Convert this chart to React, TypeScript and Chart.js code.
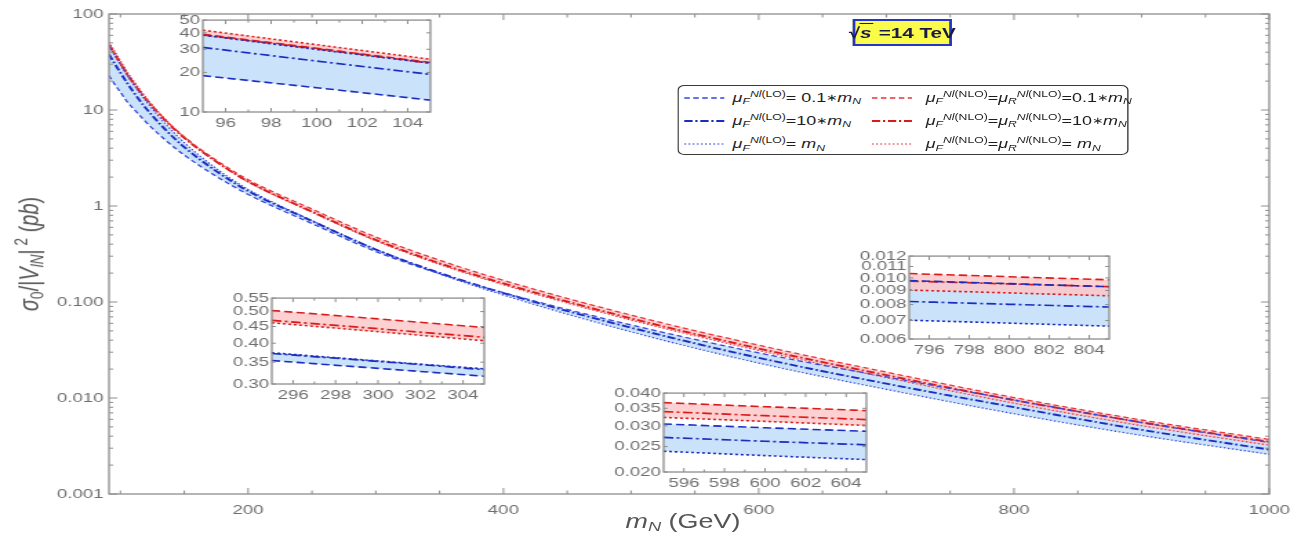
import React, { useEffect, useRef } from "react";
import { Chart, registerables } from "chart.js";

Chart.register(...registerables);

// The reference figure is horizontally stretched; we draw in a narrower
// virtual space and stretch it back with CSS.
const VW = 943;
const VH = 537;
const SX = 1301 / VW;
const FONT = '"Liberation Sans", Arial, Helvetica, sans-serif';
const TICK_COLOR = "#6f6f6f";
const FRAME_COLOR = "#8e8e8e";

// ---------------- main chart data ----------------
const MASS = [91, 95, 100, 105, 110, 120, 135, 150, 175, 200, 250, 300, 350, 400, 500, 600, 700, 800, 900, 1000];
const LO_F01 = [22.8, 18.9, 15.3, 12.3, 10.4, 7.48, 4.89, 3.39, 2.04, 1.32, 0.656, 0.335, 0.197, 0.125, 0.0577, 0.0295, 0.0166, 0.00952, 0.00555, 0.00344];
const LO_F10 = [38.0, 31.0, 24.4, 19.3, 15.5, 10.4, 6.28, 4.10, 2.31, 1.43, 0.698, 0.352, 0.201, 0.124, 0.054, 0.0262, 0.0141, 0.00802, 0.00466, 0.0029];
const LO_F1 = [47.0, 38.4, 29.9, 23.5, 18.7, 12.4, 7.23, 4.57, 2.46, 1.49, 0.707, 0.354, 0.196, 0.118, 0.0489, 0.0231, 0.0123, 0.00685, 0.00407, 0.00259];
const NLO_01 = [47.5, 39.0, 30.5, 23.8, 19.3, 13.0, 7.95, 5.25, 3.0, 1.88, 0.93, 0.475, 0.272, 0.168, 0.073, 0.0355, 0.0186, 0.0101, 0.0059, 0.0037];
const NLO_10 = [47.5, 39.0, 30.5, 23.8, 19.2, 12.9, 7.79, 5.12, 2.90, 1.80, 0.874, 0.443, 0.253, 0.156, 0.0675, 0.0328, 0.0173, 0.00952, 0.00558, 0.0035];
const NLO_1 = [51.1, 41.9, 32.5, 25.2, 20.3, 13.5, 8.03, 5.20, 2.90, 1.78, 0.860, 0.434, 0.246, 0.151, 0.0648, 0.0312, 0.0163, 0.00882, 0.00514, 0.00322];

const Y_TICKS = [0.001, 0.01, 0.1, 1, 10, 100];
const Y_TICK_LABELS = ["0.001", "0.010", "0.100", "1", "10", "100"];
const Y_MINOR = [
  0.002, 0.003, 0.004, 0.005, 0.006, 0.007, 0.008, 0.009,
  0.02, 0.03, 0.04, 0.05, 0.06, 0.07, 0.08, 0.09,
  0.2, 0.3, 0.4, 0.5, 0.6, 0.7, 0.8, 0.9,
  2, 3, 4, 5, 6, 7, 8, 9,
  20, 30, 40, 50, 60, 70, 80, 90,
];
const X_TICKS = [200, 400, 600, 800, 1000];
const X_TICK_LABELS = ["200", "400", "600", "800", "1000"];
const X_MINOR = [100, 150, 250, 300, 350, 450, 500, 550, 650, 700, 750, 850, 900, 950];

// ---------------- inset 1 (95-105 GeV) ----------------
const IN1_MASS = [95, 100, 105];
const IN1_LO_F01 = [18.9, 15.3, 12.3];
const IN1_LO_F10 = [31.0, 24.4, 19.3];
const IN1_LO_F1 = [38.4, 29.9, 23.5];
const IN1_NLO_01 = [39.0, 30.5, 23.8];
const IN1_NLO_10 = [38.6, 30.2, 23.5];
const IN1_NLO_1 = [41.9, 32.5, 25.2];
const IN1_Y_TICKS = [10, 20, 30, 40, 50];
const IN1_Y_LABELS = ["10", "20", "30", "40", "50"];
const IN1_X_TICKS = [96, 98, 100, 102, 104];
const IN1_X_MINOR = [97, 99, 101, 103];

// ---------------- inset 2 (295-305 GeV) ----------------
const IN2_MASS = [295, 300, 305];
const IN2_LO_F01 = [0.354, 0.335, 0.317];
const IN2_LO_F10 = [0.372, 0.352, 0.332];
const IN2_LO_F1 = [0.374, 0.353, 0.334];
const IN2_NLO_01 = [0.504, 0.475, 0.447];
const IN2_NLO_10 = [0.470, 0.443, 0.417];
const IN2_NLO_1 = [0.462, 0.434, 0.407];
const IN2_Y_TICKS = [0.30, 0.35, 0.40, 0.45, 0.50, 0.55];
const IN2_Y_LABELS = ["0.30", "0.35", "0.40", "0.45", "0.50", "0.55"];
const IN2_X_TICKS = [296, 298, 300, 302, 304];
const IN2_X_MINOR = [297, 299, 301, 303];

// ---------------- inset 3 (595-605 GeV) ----------------
const IN3_MASS = [595, 600, 605];
const IN3_LO_F01 = [0.0305, 0.0295, 0.0286];
const IN3_LO_F10 = [0.0271, 0.0262, 0.0254];
const IN3_LO_F1 = [0.0240, 0.0231, 0.0223];
const IN3_NLO_01 = [0.0368, 0.0355, 0.0343];
const IN3_NLO_10 = [0.0340, 0.0328, 0.0317];
const IN3_NLO_1 = [0.0323, 0.0312, 0.0301];
const IN3_Y_TICKS = [0.020, 0.025, 0.030, 0.035, 0.040];
const IN3_Y_LABELS = ["0.020", "0.025", "0.030", "0.035", "0.040"];
const IN3_X_TICKS = [596, 598, 600, 602, 604];
const IN3_X_MINOR = [597, 599, 601, 603];

// ---------------- inset 4 (795-805 GeV) ----------------
const IN4_MASS = [795, 800, 805];
const IN4_LO_F01 = [0.00978, 0.00953, 0.00929];
const IN4_LO_F10 = [0.00821, 0.00802, 0.00784];
const IN4_LO_F1 = [0.00702, 0.00685, 0.00668];
const IN4_NLO_01 = [0.01037, 0.0101, 0.00984];
const IN4_NLO_10 = [0.00974, 0.00951, 0.00929];
const IN4_NLO_1 = [0.00903, 0.00882, 0.00861];
const IN4_Y_TICKS = [0.006, 0.007, 0.008, 0.009, 0.010, 0.011, 0.012];
const IN4_Y_LABELS = ["0.006", "0.007", "0.008", "0.009", "0.010", "0.011", "0.012"];
const IN4_X_TICKS = [796, 798, 800, 802, 804];
const IN4_X_MINOR = [797, 799, 801, 803];

// ---------------- styles ----------------
const BLUE = "#3446e0";
const BLUE_DARK = "#1c2cc0";
const RED = "#e8343a";
const RED_DARK = "#d81c1c";
const BLUE_BAND = "rgba(196,224,250,0.9)";
const RED_BAND = "rgba(252,196,198,0.8)";

type LineStyle = { color: string; dash: number[]; width: number };
type StyleSet = Record<"lo01" | "lo10" | "lo1" | "nlo01" | "nlo10" | "nlo1", LineStyle>;

const MAIN_STYLES: StyleSet = {
  lo01: { color: BLUE, dash: [4, 2.5], width: 1.3 },
  lo10: { color: BLUE_DARK, dash: [6, 2, 1.6, 2], width: 1.9 },
  lo1: { color: BLUE, dash: [1.4, 1.6], width: 1.2 },
  nlo01: { color: RED, dash: [4, 2.5], width: 1.3 },
  nlo10: { color: RED_DARK, dash: [6, 2, 1.6, 2], width: 1.9 },
  nlo1: { color: RED, dash: [1.4, 1.6], width: 1.2 },
};
const INSET_STYLES: StyleSet = {
  lo01: { color: BLUE_DARK, dash: [6, 3], width: 1.6 },
  lo10: { color: BLUE_DARK, dash: [7, 2.5, 2, 2.5], width: 1.7 },
  lo1: { color: BLUE_DARK, dash: [2, 2], width: 1.6 },
  nlo01: { color: RED_DARK, dash: [6, 3], width: 1.6 },
  nlo10: { color: RED_DARK, dash: [7, 2.5, 2, 2.5], width: 1.7 },
  nlo1: { color: RED_DARK, dash: [2, 2], width: 1.6 },
};

type Series = { lo01: number[]; lo10: number[]; lo1: number[]; nlo01: number[]; nlo10: number[]; nlo1: number[] };

function buildDatasets(xs: number[], s: Series, st: StyleSet) {
  const pts = (arr: number[]) => xs.map((x, i) => ({ x, y: arr[i] }));
  const env = (arrs: number[][], f: (...v: number[]) => number) =>
    xs.map((x, i) => ({ x, y: f(...arrs.map((a) => a[i])) }));
  const red = [s.nlo01, s.nlo10, s.nlo1];
  const blue = [s.lo01, s.lo10, s.lo1];
  const band = (data: any, color: string | null) => ({
    data,
    borderWidth: 0,
    borderColor: "rgba(0,0,0,0)",
    pointRadius: 0,
    backgroundColor: color || "rgba(0,0,0,0)",
    fill: color ? { target: "-1", above: color, below: color } : false,
    cubicInterpolationMode: "monotone",
  });
  const line = (arr: number[], ls: LineStyle) => ({
    data: pts(arr),
    borderColor: ls.color,
    borderWidth: ls.width,
    borderDash: ls.dash,
    pointRadius: 0,
    fill: false,
    cubicInterpolationMode: "monotone",
  });
  return [
    band(env(red, Math.min), null),
    band(env(red, Math.max), RED_BAND),
    band(env(blue, Math.min), null),
    band(env(blue, Math.max), BLUE_BAND),
    line(s.lo01, st.lo01),
    line(s.lo10, st.lo10),
    line(s.lo1, st.lo1),
    line(s.nlo01, st.nlo01),
    line(s.nlo10, st.nlo10),
    line(s.nlo1, st.nlo1),
  ];
}

type TickSpec = {
  xMajor: number[];
  xMinor: number[];
  yMajor: number[];
  yMinor: number[];
  xMajLen: number;
  xMinLen: number;
  yMajLen: number;
  yMinLen: number;
};

function framePlugin(t: TickSpec) {
  return {
    id: "frameTicks",
    beforeDraw(chart: any) {
      const a = chart.chartArea;
      const c = chart.ctx;
      c.save();
      c.fillStyle = "#ffffff";
      c.fillRect(a.left, a.top, a.right - a.left, a.bottom - a.top);
      c.restore();
    },
    afterDatasetsDraw(chart: any) {
      const a = chart.chartArea;
      const c = chart.ctx;
      const xs = chart.scales.x;
      const ys = chart.scales.y;
      c.save();
      c.strokeStyle = FRAME_COLOR;
      c.lineWidth = 1;
      c.beginPath();
      const tx = (v: number, len: number) => {
        const p = xs.getPixelForValue(v);
        if (p < a.left - 0.5 || p > a.right + 0.5) return;
        c.moveTo(p, a.bottom);
        c.lineTo(p, a.bottom - len);
        c.moveTo(p, a.top);
        c.lineTo(p, a.top + len);
      };
      const ty = (v: number, len: number) => {
        const p = ys.getPixelForValue(v);
        if (p < a.top - 0.5 || p > a.bottom + 0.5) return;
        c.moveTo(a.left, p);
        c.lineTo(a.left + len, p);
        c.moveTo(a.right, p);
        c.lineTo(a.right - len, p);
      };
      t.xMajor.forEach((v) => tx(v, t.xMajLen));
      t.xMinor.forEach((v) => tx(v, t.xMinLen));
      t.yMajor.forEach((v) => ty(v, t.yMajLen));
      t.yMinor.forEach((v) => ty(v, t.yMinLen));
      c.stroke();
      c.lineWidth = 1.3;
      c.strokeRect(a.left, a.top, a.right - a.left, a.bottom - a.top);
      c.restore();
    },
  };
}

type AxisCfg = {
  xMin: number;
  xMax: number;
  yMin: number;
  yMax: number;
  xTicks: number[];
  xLabels: string[];
  yTicks: number[];
  yLabels: string[];
  yAxisW: number;
  xAxisH: number;
  pad: { top: number; right: number; left: number; bottom: number };
  fontSize: number;
  yPad: number;
  xPad: number;
};

function makeConfig(xs: number[], s: Series, st: StyleSet, ax: AxisCfg, ticks: TickSpec): any {
  return {
    type: "line",
    data: { datasets: buildDatasets(xs, s, st) },
    options: {
      animation: false,
      responsive: false,
      devicePixelRatio: 1,
      events: [],
      layout: { padding: ax.pad, autoPadding: false },
      plugins: {
        legend: { display: false },
        title: { display: false },
        tooltip: { enabled: false },
        filler: { drawTime: "beforeDatasetsDraw", propagate: false },
      },
      scales: {
        x: {
          type: "linear",
          min: ax.xMin,
          max: ax.xMax,
          grid: { display: false, drawTicks: false },
          border: { display: false },
          afterBuildTicks: (sc: any) => {
            sc.ticks = ax.xTicks.map((v) => ({ value: v }));
          },
          afterFit: (sc: any) => {
            sc.height = ax.xAxisH;
          },
          ticks: {
            autoSkip: false,
            maxRotation: 0,
            padding: ax.xPad,
            color: TICK_COLOR,
            font: { family: FONT, size: ax.fontSize },
            callback: (v: number) => {
              const i = ax.xTicks.indexOf(v);
              return i >= 0 ? ax.xLabels[i] : "";
            },
          },
        },
        y: {
          type: "logarithmic",
          min: ax.yMin,
          max: ax.yMax,
          grid: { display: false, drawTicks: false },
          border: { display: false },
          afterBuildTicks: (sc: any) => {
            sc.ticks = ax.yTicks.map((v) => ({ value: v }));
          },
          afterFit: (sc: any) => {
            sc.width = ax.yAxisW;
          },
          ticks: {
            autoSkip: false,
            padding: ax.yPad,
            color: TICK_COLOR,
            font: { family: FONT, size: ax.fontSize },
            callback: (v: number) => {
              const i = ax.yTicks.findIndex((t) => Math.abs(t - v) < 1e-9 * Math.max(1, Math.abs(t)));
              return i >= 0 ? ax.yLabels[i] : "";
            },
          },
        },
      },
    },
    plugins: [framePlugin(ticks)],
  };
}

function ChartBox({ left, top, width, height, make }: { left: number; top: number; width: number; height: number; make: () => any }) {
  const ref = useRef<HTMLCanvasElement>(null);
  useEffect(() => {
    const chart = new Chart(ref.current as HTMLCanvasElement, make());
    return () => chart.destroy();
  }, []);
  return (
    <div style={{ position: "absolute", left, top, width, height }}>
      <canvas ref={ref} width={width} height={height} style={{ display: "block", width, height }} />
    </div>
  );
}

// Inset geometry helper: frame (plot area) rectangle in virtual coordinates.
const INSET_YW = 44;
const INSET_PT = 9;
const INSET_PR = 8;
const INSET_XH = 24;

function Inset(props: {
  frame: [number, number, number, number];
  xs: number[];
  s: Series;
  xRange: [number, number];
  yRange: [number, number];
  xTicks: number[];
  xMinor: number[];
  yTicks: number[];
  yLabels: string[];
}) {
  const [L, T, R, B] = props.frame;
  const left = L - INSET_YW;
  const top = T - INSET_PT;
  const width = R - L + INSET_YW + INSET_PR;
  const height = B - T + INSET_PT + INSET_XH;
  const make = () =>
    makeConfig(
      props.xs,
      props.s,
      INSET_STYLES,
      {
        xMin: props.xRange[0],
        xMax: props.xRange[1],
        yMin: props.yRange[0],
        yMax: props.yRange[1],
        xTicks: props.xTicks,
        xLabels: props.xTicks.map((v) => String(v)),
        yTicks: props.yTicks,
        yLabels: props.yLabels,
        yAxisW: INSET_YW,
        xAxisH: INSET_XH,
        pad: { top: INSET_PT, right: INSET_PR, left: 0, bottom: 0 },
        fontSize: 13.5,
        yPad: 2,
        xPad: 3,
      },
      {
        xMajor: props.xTicks,
        xMinor: props.xMinor,
        yMajor: props.yTicks,
        yMinor: [],
        xMajLen: 4,
        xMinLen: 2.5,
        yMajLen: 3,
        yMinLen: 2,
      }
    );
  return <ChartBox left={left} top={top} width={width} height={height} make={make} />;
}

const subS: React.CSSProperties = { fontSize: "0.68em", verticalAlign: "-0.3em", lineHeight: 0 };
const supS: React.CSSProperties = { fontSize: "0.68em", verticalAlign: "0.55em", lineHeight: 0 };
const starS: React.CSSProperties = { fontSize: "0.75em", verticalAlign: "0.05em" };

function MuF({ lo }: { lo: boolean }) {
  return (
    <span>
      <i>μ</i>
      <span style={subS}>
        <i>F</i>
      </span>
      <span style={supS}>
        <i>Nl</i>({lo ? "LO" : "NLO"})
      </span>
    </span>
  );
}
function MuR() {
  return (
    <span>
      <i>μ</i>
      <span style={subS}>
        <i>R</i>
      </span>
      <span style={supS}>
        <i>Nl</i>(NLO)
      </span>
    </span>
  );
}
function MN() {
  return (
    <span>
      <i>m</i>
      <span style={subS}>
        <i>N</i>
      </span>
    </span>
  );
}
function Star() {
  return <span style={starS}>∗</span>;
}

const LEGEND_ROWS_Y = [98, 121, 144];
const LEGEND_COL_SAMPLE_X = [496, 632];
const LEGEND_SAMPLE_W = 29;
const LEGEND_COL_TEXT_X = [531, 671];

function Sample({ x, y, ls }: { x: number; y: number; ls: LineStyle }) {
  return (
    <svg style={{ position: "absolute", left: x, top: y - 4, overflow: "visible" }} width={LEGEND_SAMPLE_W} height={8}>
      <line x1={0} y1={4} x2={LEGEND_SAMPLE_W} y2={4} stroke={ls.color} strokeWidth={ls.width} strokeDasharray={ls.dash.join(" ")} />
    </svg>
  );
}

function Label({ x, y, children }: { x: number; y: number; children: React.ReactNode }) {
  return (
    <div
      style={{
        position: "absolute",
        left: x,
        top: y,
        transform: "translateY(-50%)",
        whiteSpace: "nowrap",
        fontFamily: FONT,
        fontSize: 13,
        color: "#1e1e1e",
        lineHeight: "18px",
      }}
    >
      {children}
    </div>
  );
}

export default function App() {
  const mainSeries: Series = { lo01: LO_F01, lo10: LO_F10, lo1: LO_F1, nlo01: NLO_01, nlo10: NLO_10, nlo1: NLO_1 };
  const makeMain = () =>
    makeConfig(
      MASS,
      mainSeries,
      MAIN_STYLES,
      {
        xMin: 91,
        xMax: 1000,
        yMin: 0.001,
        yMax: 100,
        xTicks: X_TICKS,
        xLabels: X_TICK_LABELS,
        yTicks: Y_TICKS,
        yLabels: Y_TICK_LABELS,
        yAxisW: 79,
        xAxisH: 43,
        pad: { top: 14, right: 15, left: 0, bottom: 0 },
        fontSize: 13.5,
        yPad: 4,
        xPad: 8,
      },
      {
        xMajor: X_TICKS,
        xMinor: X_MINOR,
        yMajor: Y_TICKS,
        yMinor: Y_MINOR,
        xMajLen: 6,
        xMinLen: 3.5,
        yMajLen: 6,
        yMinLen: 3,
      }
    );

  return (
    <div
      style={{
        position: "fixed",
        left: 0,
        top: 0,
        width: VW,
        height: VH,
        transform: `scaleX(${SX})`,
        transformOrigin: "0 0",
        background: "#ffffff",
        overflow: "hidden",
      }}
    >
      <ChartBox left={0} top={0} width={VW} height={VH} make={makeMain} />

      <Inset
        frame={[147, 19, 312, 112]}
        xs={IN1_MASS}
        s={{ lo01: IN1_LO_F01, lo10: IN1_LO_F10, lo1: IN1_LO_F1, nlo01: IN1_NLO_01, nlo10: IN1_NLO_10, nlo1: IN1_NLO_1 }}
        xRange={[95, 105]}
        yRange={[10, 50]}
        xTicks={IN1_X_TICKS}
        xMinor={IN1_X_MINOR}
        yTicks={IN1_Y_TICKS}
        yLabels={IN1_Y_LABELS}
      />
      <Inset
        frame={[197, 297, 351, 384]}
        xs={IN2_MASS}
        s={{ lo01: IN2_LO_F01, lo10: IN2_LO_F10, lo1: IN2_LO_F1, nlo01: IN2_NLO_01, nlo10: IN2_NLO_10, nlo1: IN2_NLO_1 }}
        xRange={[295, 305]}
        yRange={[0.3, 0.55]}
        xTicks={IN2_X_TICKS}
        xMinor={IN2_X_MINOR}
        yTicks={IN2_Y_TICKS}
        yLabels={IN2_Y_LABELS}
      />
      <Inset
        frame={[481, 392, 628, 472]}
        xs={IN3_MASS}
        s={{ lo01: IN3_LO_F01, lo10: IN3_LO_F10, lo1: IN3_LO_F1, nlo01: IN3_NLO_01, nlo10: IN3_NLO_10, nlo1: IN3_NLO_1 }}
        xRange={[595, 605]}
        yRange={[0.02, 0.04]}
        xTicks={IN3_X_TICKS}
        xMinor={IN3_X_MINOR}
        yTicks={IN3_Y_TICKS}
        yLabels={IN3_Y_LABELS}
      />
      <Inset
        frame={[659, 255, 804, 339]}
        xs={IN4_MASS}
        s={{ lo01: IN4_LO_F01, lo10: IN4_LO_F10, lo1: IN4_LO_F1, nlo01: IN4_NLO_01, nlo10: IN4_NLO_10, nlo1: IN4_NLO_1 }}
        xRange={[795, 805]}
        yRange={[0.006, 0.012]}
        xTicks={IN4_X_TICKS}
        xMinor={IN4_X_MINOR}
        yTicks={IN4_Y_TICKS}
        yLabels={IN4_Y_LABELS}
      />

      {/* sqrt(s) box */}
      <div
        style={{
          position: "absolute",
          left: 618,
          top: 19,
          width: 72,
          height: 27,
          boxSizing: "border-box",
          border: "2px solid #2435c8",
          background: "#fbfb4a",
          fontFamily: FONT,
          fontWeight: "bold",
          fontSize: 15,
          color: "#1a1a48",
          display: "flex",
          alignItems: "center",
          justifyContent: "center",
          whiteSpace: "nowrap",
        }}
      >
        <span>
          √<span style={{ borderTop: "1.5px solid #1a1a48", fontStyle: "italic", paddingRight: 1 }}>s</span> =14 TeV
        </span>
      </div>

      {/* legend */}
      <div
        style={{
          position: "absolute",
          left: 491,
          top: 85,
          width: 327,
          height: 70,
          boxSizing: "border-box",
          border: "1px solid #3a3a3a",
          borderRadius: 5,
          background: "#ffffff",
        }}
      />
      <Sample x={LEGEND_COL_SAMPLE_X[0]} y={LEGEND_ROWS_Y[0]} ls={MAIN_STYLES.lo01} />
      <Sample x={LEGEND_COL_SAMPLE_X[0]} y={LEGEND_ROWS_Y[1]} ls={{ ...MAIN_STYLES.lo10, width: 2 }} />
      <Sample x={LEGEND_COL_SAMPLE_X[0]} y={LEGEND_ROWS_Y[2]} ls={MAIN_STYLES.lo1} />
      <Sample x={LEGEND_COL_SAMPLE_X[1]} y={LEGEND_ROWS_Y[0]} ls={MAIN_STYLES.nlo01} />
      <Sample x={LEGEND_COL_SAMPLE_X[1]} y={LEGEND_ROWS_Y[1]} ls={{ ...MAIN_STYLES.nlo10, width: 2 }} />
      <Sample x={LEGEND_COL_SAMPLE_X[1]} y={LEGEND_ROWS_Y[2]} ls={MAIN_STYLES.nlo1} />
      <Label x={LEGEND_COL_TEXT_X[0]} y={LEGEND_ROWS_Y[0]}>
        <MuF lo />= 0.1<Star /><MN />
      </Label>
      <Label x={LEGEND_COL_TEXT_X[0]} y={LEGEND_ROWS_Y[1]}>
        <MuF lo />=10<Star /><MN />
      </Label>
      <Label x={LEGEND_COL_TEXT_X[0]} y={LEGEND_ROWS_Y[2]}>
        <MuF lo />= <MN />
      </Label>
      <Label x={LEGEND_COL_TEXT_X[1]} y={LEGEND_ROWS_Y[0]}>
        <MuF lo={false} />=<MuR />=0.1<Star /><MN />
      </Label>
      <Label x={LEGEND_COL_TEXT_X[1]} y={LEGEND_ROWS_Y[1]}>
        <MuF lo={false} />=<MuR />=10<Star /><MN />
      </Label>
      <Label x={LEGEND_COL_TEXT_X[1]} y={LEGEND_ROWS_Y[2]}>
        <MuF lo={false} />=<MuR />= <MN />
      </Label>

      {/* axis titles */}
      <div
        style={{
          position: "absolute",
          left: 495,
          top: 521,
          transform: "translate(-50%, -50%)",
          whiteSpace: "nowrap",
          fontFamily: FONT,
          fontSize: 19.5,
          color: "#555555",
        }}
      >
        <i>m</i>
        <span style={subS}>
          <i>N</i>
        </span>{" "}
        (GeV)
      </div>
      <div
        style={{
          position: "absolute",
          left: 21,
          top: 254,
          transform: "translate(-50%, -50%) rotate(-90deg)",
          whiteSpace: "nowrap",
          fontFamily: FONT,
          fontSize: 20,
          color: "#555555",
        }}
      >
        <i>σ</i>
        <span style={subS}>0</span>/|<i>V</i>
        <span style={subS}>
          <i>lN</i>
        </span>
        |<span style={supS}>&nbsp;2</span> (<i>pb</i>)
      </div>
    </div>
  );
}
